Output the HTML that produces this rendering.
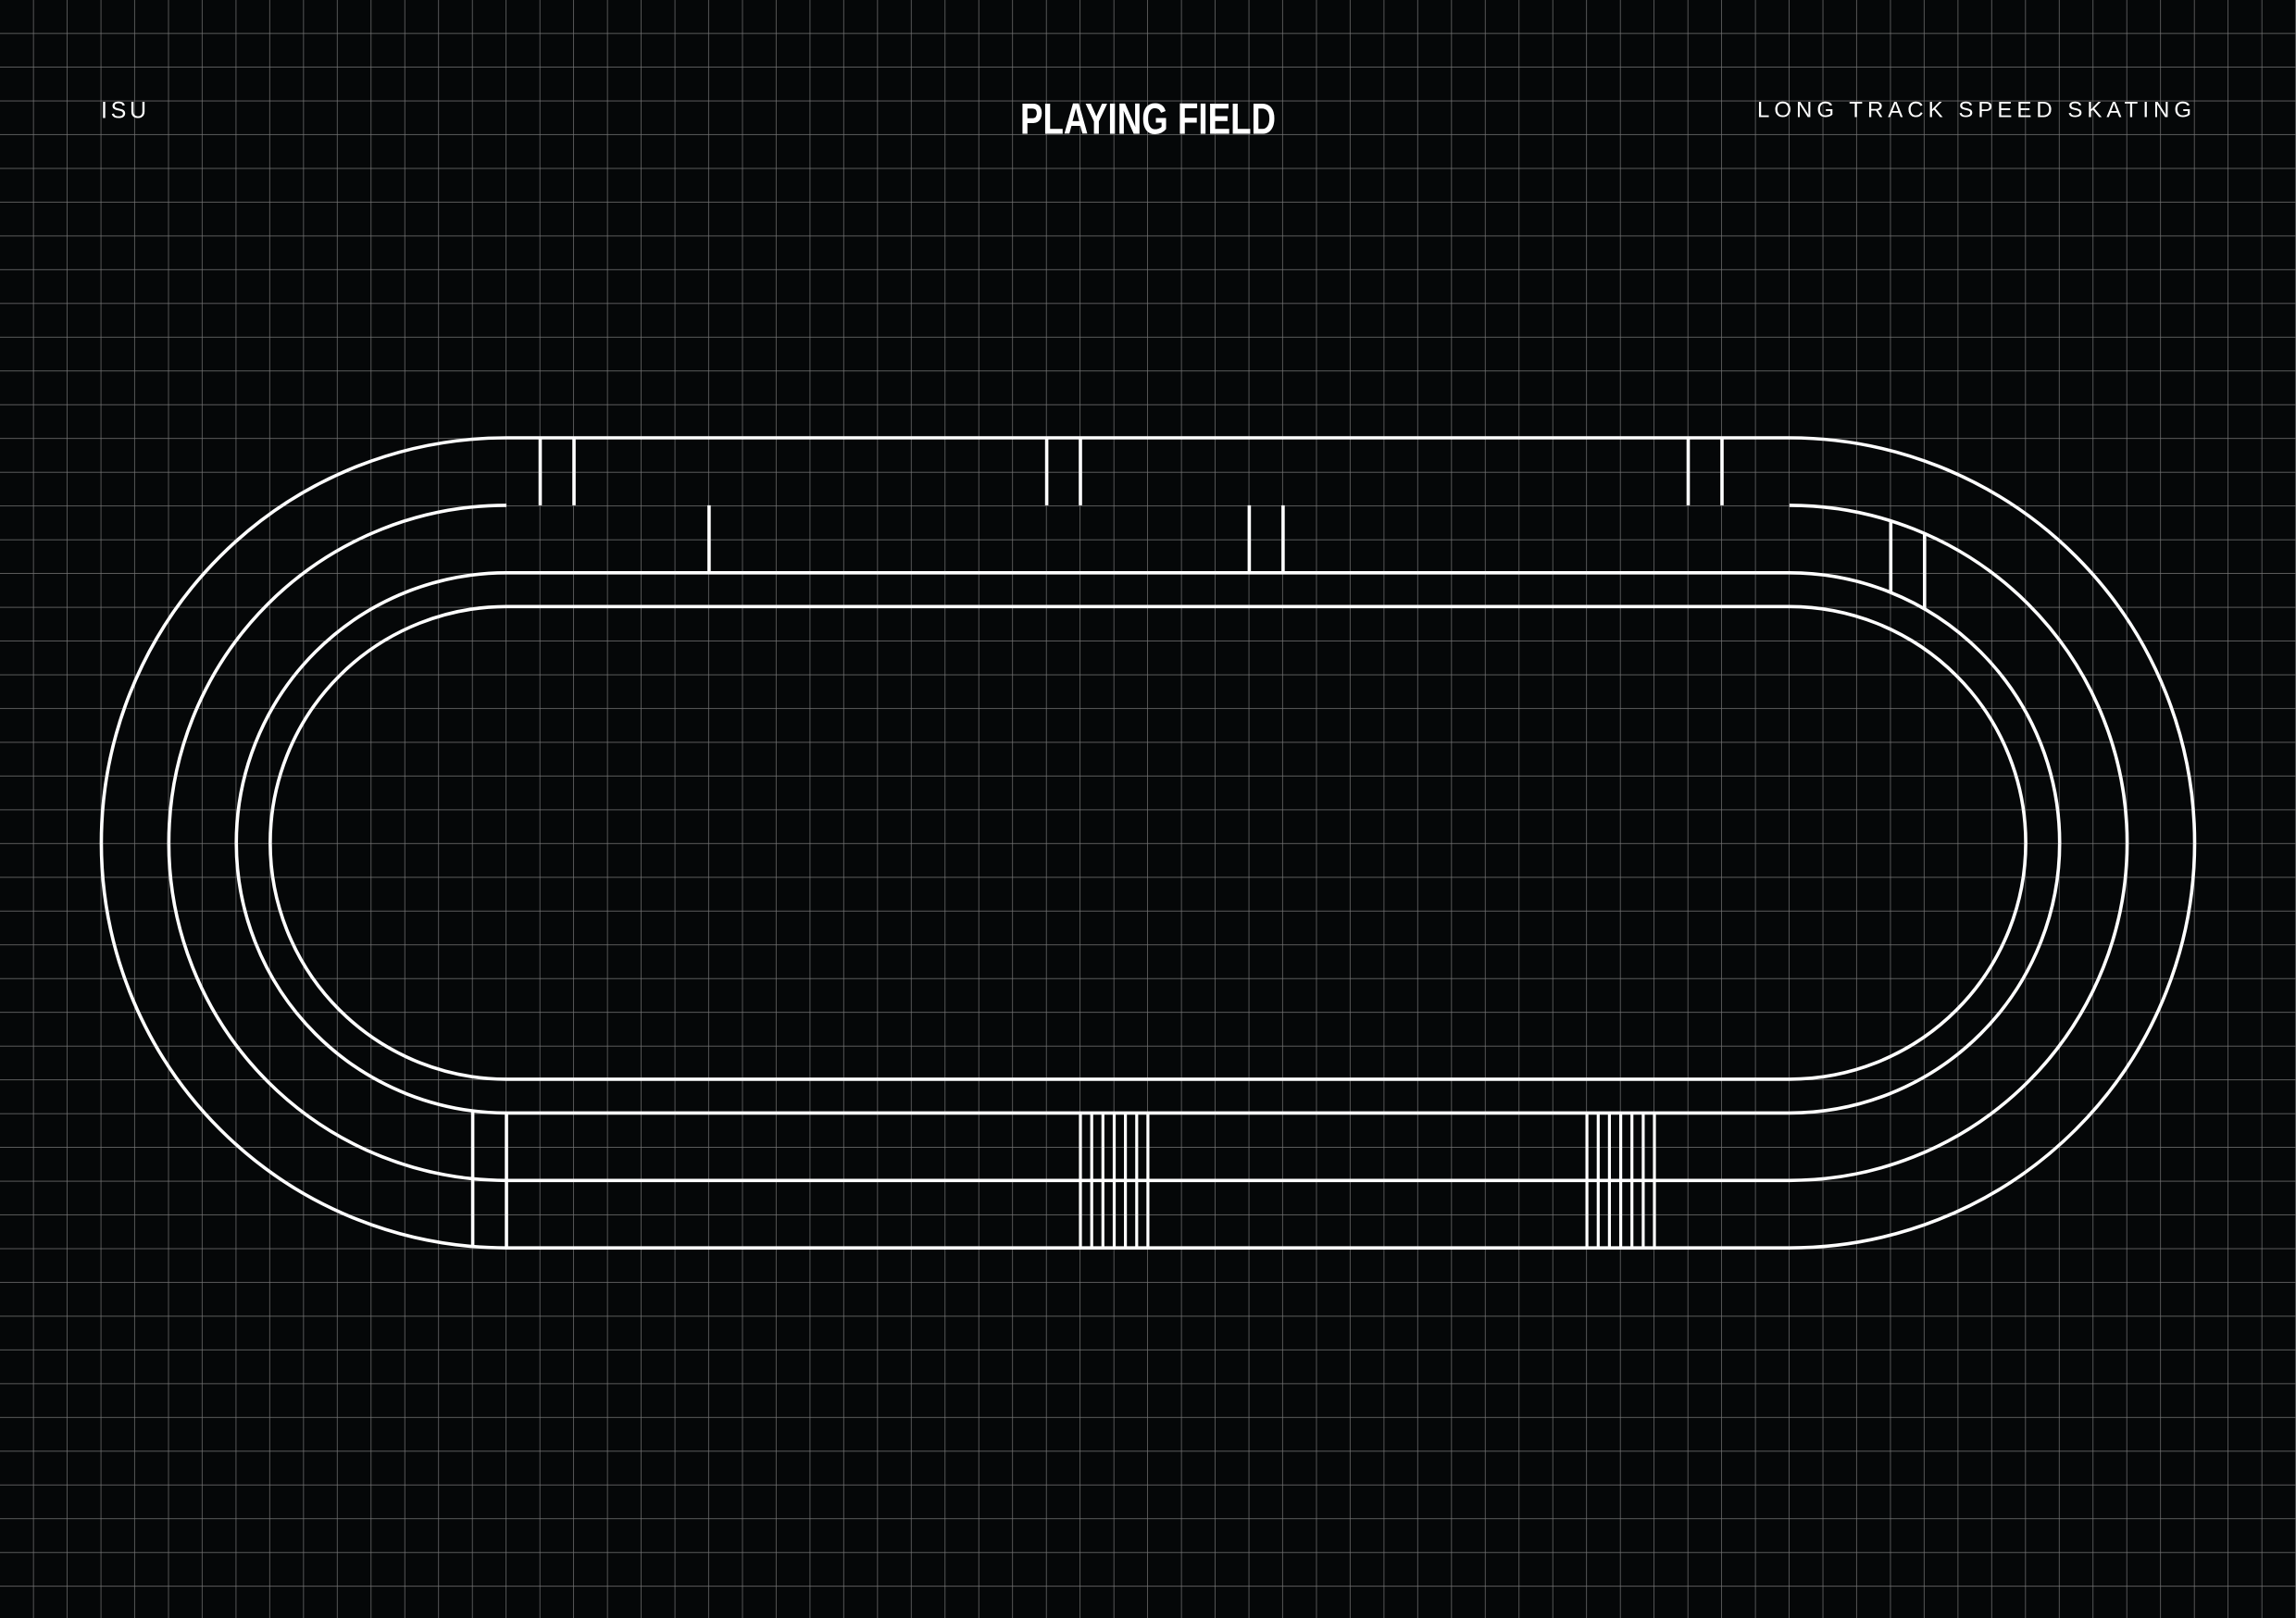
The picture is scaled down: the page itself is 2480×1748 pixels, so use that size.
<!DOCTYPE html>
<html><head><meta charset="utf-8"><style>
html,body{margin:0;padding:0;background:#050708;}
svg{display:block;}
</style></head><body>
<svg width="2480" height="1748" viewBox="0 0 2480 1748" xmlns="http://www.w3.org/2000/svg">
<defs>
<pattern id="g" x="0" y="0" width="36.47" height="36.47" patternUnits="userSpaceOnUse">
<path d="M36.47 0V36.47M0 36.47H36.47" stroke="#767676" stroke-width="1.4" fill="none"/>
</pattern>
</defs>
<rect width="2480" height="1748" fill="#050708"/>
<rect width="2480" height="1748" fill="url(#g)"/>
<g fill="#fff" font-family="'Liberation Sans', sans-serif">
<text x="109" y="127.6" font-size="25" textLength="49" lengthAdjust="spacing">ISU</text>
<text x="1898" y="126.7" font-size="24" textLength="469" lengthAdjust="spacing">LONG TRACK SPEED SKATING</text>
<text x="1102" y="144.3" font-size="47" font-weight="bold" textLength="276" lengthAdjust="spacingAndGlyphs" font-family="'Liberation Sans Narrow','Liberation Sans',sans-serif">PLAYING FIELD</text>
</g>
<g transform="translate(0,-1.2)">
<g stroke="#fff" stroke-width="3.6" fill="none">
<path d="M547.05,474.2 H1932.9 A437.6 437.6 0 0 1 1932.9,1349.4 H547.05 A437.6 437.6 0 0 1 547.05,474.2 Z"/>
<path d="M547.05,547.1 A364.7 364.7 0 0 0 547.05,1276.5 H1932.9 A364.7 364.7 0 0 0 1932.9,547.1"/>
<path d="M547.05,620 H1932.9 A291.8 291.8 0 0 1 1932.9,1203.6 H547.05 A291.8 291.8 0 0 1 547.05,620 Z"/>
<path d="M547.05,656.5 H1932.9 A255.3 255.3 0 0 1 1932.9,1167.1 H547.05 A255.3 255.3 0 0 1 547.05,656.5 Z"/>
<path d="M583.5,474.2V547.1M620,474.2V547.1M1130.6,474.2V547.1M1167,474.2V547.1M1823.5,474.2V547.1M1860,474.2V547.1"/>
<path d="M765.9,547.1V620M1349.4,547.1V620M1385.9,547.1V620"/>
<path d="M2042.3,563.8V641M2078.8,577.6V659.1"/>
<path d="M510.6,1201.3V1347.9M547.05,1203.6V1349.4"/>
</g>
<g stroke="#fff" stroke-width="3.2" fill="none">
<path d="M1167,1203.6V1349.4M1179.2,1203.6V1349.4M1191.3,1203.6V1349.4M1203.5,1203.6V1349.4M1215.6,1203.6V1349.4M1227.8,1203.6V1349.4M1239.9,1203.6V1349.4"/>
<path d="M1714.1,1203.6V1349.4M1726.3,1203.6V1349.4M1738.4,1203.6V1349.4M1750.6,1203.6V1349.4M1762.7,1203.6V1349.4M1774.9,1203.6V1349.4M1787,1203.6V1349.4"/>
</g>
</g>
</svg>
</body></html>
